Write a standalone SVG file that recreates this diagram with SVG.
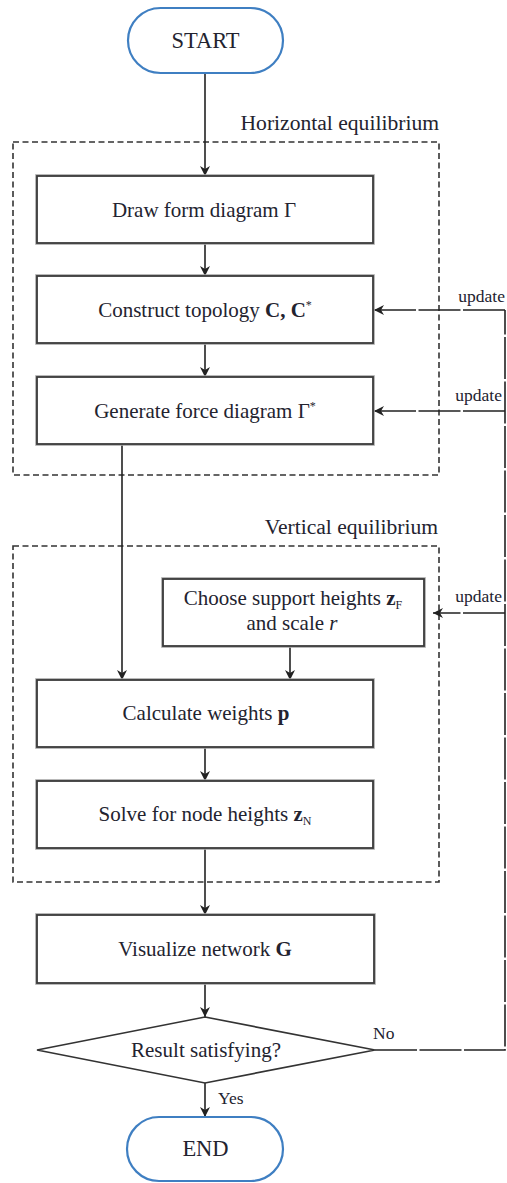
<svg xmlns="http://www.w3.org/2000/svg" width="507" height="1183" viewBox="0 0 507 1183">
  <style>
    .txt { font-family: "Liberation Serif", "Times New Roman", serif; fill: #23232f; }
    .box { font-size: 21px; }
    .term { font-size: 22.5px; }
    .lbl { font-size: 21.6px; }
    .small { font-size: 17.5px; }
    .b { font-weight: bold; }
    .i { font-style: italic; }
    .terminal { fill: #ffffff; stroke: #3f7fc2; stroke-width: 2.2; }
    .proc { fill: #ffffff; stroke: #3a3a3a; stroke-width: 1.8; }
    .procShade { fill: none; stroke: #a8a8a8; stroke-width: 3.6; }
    .group { fill: none; stroke: #333333; stroke-width: 1.6; stroke-dasharray: 6 3.5; }
    .flow { fill: none; stroke: #222222; stroke-width: 1.6; }
    .feedback { fill: none; stroke: #222222; stroke-width: 1.6; stroke-dasharray: 42 2.5; }
  </style>
  <defs>
    <marker id="arrow" viewBox="0 0 10 10" refX="10" refY="5" markerWidth="10" markerHeight="10" markerUnits="userSpaceOnUse" orient="auto">
      <path d="M0,0 L10,5 L0,10 L3,5 Z" fill="#222222"/>
    </marker>
  </defs>

  <rect width="507" height="1183" fill="#ffffff"/>

  <!-- grouping frames -->
  <g id="horizontal-equilibrium">
    <rect class="group" x="13" y="142" width="426" height="333"/>
    <text class="txt lbl" x="439" y="130" text-anchor="end">Horizontal equilibrium</text>
  </g>
  <g id="vertical-equilibrium">
    <rect class="group" x="13" y="546" width="426" height="336"/>
    <text class="txt lbl" x="438" y="534" text-anchor="end">Vertical equilibrium</text>
  </g>

  <!-- connectors -->
  <g id="connectors">
    <line class="flow" x1="205" y1="73" x2="205" y2="176" marker-end="url(#arrow)"/>
    <line class="flow" x1="205" y1="243" x2="205" y2="276" marker-end="url(#arrow)"/>
    <line class="flow" x1="205" y1="343" x2="205" y2="377" marker-end="url(#arrow)"/>
    <line class="flow" x1="122" y1="444" x2="122" y2="680" marker-end="url(#arrow)"/>
    <line class="flow" x1="290" y1="646" x2="290" y2="680" marker-end="url(#arrow)"/>
    <line class="flow" x1="205" y1="747" x2="205" y2="781" marker-end="url(#arrow)"/>
    <line class="flow" x1="205" y1="848" x2="205" y2="915" marker-end="url(#arrow)"/>
    <line class="flow" x1="205" y1="983" x2="205" y2="1017" marker-end="url(#arrow)"/>
    <line class="flow" x1="205" y1="1083" x2="205" y2="1117" marker-end="url(#arrow)"/>
    <text class="txt small" x="218" y="1104">Yes</text>

    <!-- loop back from the decision -->
    <polyline class="feedback" points="375,1050 505,1050 505,310"/>
    <text class="txt small" x="373" y="1039">No</text>
    <line class="feedback" x1="505" y1="310" x2="374" y2="310" marker-end="url(#arrow)"/>
    <line class="feedback" x1="505" y1="411" x2="374" y2="411" marker-end="url(#arrow)"/>
    <line class="feedback" x1="505" y1="613" x2="433" y2="613" marker-end="url(#arrow)"/>
    <text class="txt small" x="505" y="302" text-anchor="end">update</text>
    <text class="txt small" x="502" y="401" text-anchor="end">update</text>
    <text class="txt small" x="502" y="602" text-anchor="end">update</text>
  </g>

  <!-- nodes -->
  <g id="start">
    <rect class="terminal" x="128" y="8" width="155" height="65" rx="32.5"/>
    <text class="txt term" x="205.5" y="48" text-anchor="middle">START</text>
  </g>

  <g id="draw-form">
    <rect class="procShade" x="37" y="176" width="336" height="67"/>
    <rect class="proc" x="37" y="176" width="336" height="67"/>
    <text class="txt box" x="204" y="217" text-anchor="middle">Draw form diagram Γ</text>
  </g>

  <g id="construct-topology">
    <rect class="procShade" x="37" y="276" width="336" height="67"/>
    <rect class="proc" x="37" y="276" width="336" height="67"/>
    <text class="txt box" x="205" y="317" text-anchor="middle">Construct topology <tspan class="b">C, C</tspan><tspan font-size="12" dy="-8">*</tspan></text>
  </g>

  <g id="generate-force">
    <rect class="procShade" x="37" y="377" width="336" height="67"/>
    <rect class="proc" x="37" y="377" width="336" height="67"/>
    <text class="txt box" x="205" y="418" text-anchor="middle">Generate force diagram Γ<tspan font-size="12" dy="-8">*</tspan></text>
  </g>

  <g id="choose-support">
    <rect class="procShade" x="163" y="579" width="261" height="67"/>
    <rect class="proc" x="163" y="579" width="261" height="67"/>
    <text class="txt box" x="293" y="605" text-anchor="middle">Choose support heights <tspan class="b">z</tspan><tspan font-size="12" dy="4">F</tspan></text>
    <text class="txt box" x="292" y="630" text-anchor="middle">and scale <tspan class="i">r</tspan></text>
  </g>

  <g id="calculate-weights">
    <rect class="procShade" x="37" y="680" width="336" height="67"/>
    <rect class="proc" x="37" y="680" width="336" height="67"/>
    <text class="txt box" x="206" y="720" text-anchor="middle">Calculate weights <tspan class="b">p</tspan></text>
  </g>

  <g id="solve-heights">
    <rect class="procShade" x="37" y="781" width="336" height="67"/>
    <rect class="proc" x="37" y="781" width="336" height="67"/>
    <text class="txt box" x="205" y="821" text-anchor="middle">Solve for node heights <tspan class="b">z</tspan><tspan font-size="12" dy="4">N</tspan></text>
  </g>

  <g id="visualize">
    <rect class="procShade" x="37" y="915" width="337" height="68"/>
    <rect class="proc" x="37" y="915" width="337" height="68"/>
    <text class="txt box" x="205" y="956" text-anchor="middle">Visualize network <tspan class="b">G</tspan></text>
  </g>

  <g id="decision">
    <polygon points="205,1017 375,1050 205,1083 37,1050" fill="#ffffff" stroke="#333333" stroke-width="1.7"/>
    <text class="txt box" x="206" y="1057" text-anchor="middle">Result satisfying?</text>
  </g>

  <g id="end">
    <rect class="terminal" x="127" y="1117" width="156" height="64" rx="32"/>
    <text class="txt term" x="205.5" y="1156" text-anchor="middle">END</text>
  </g>
</svg>
